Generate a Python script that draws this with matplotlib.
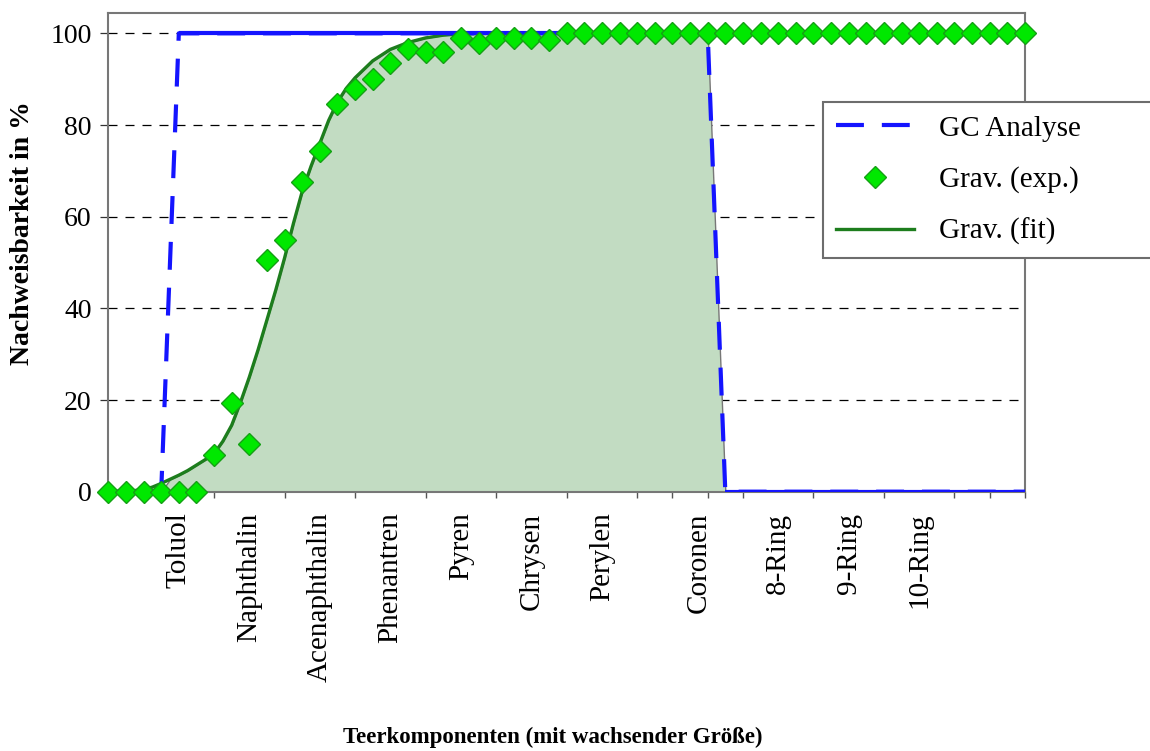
import matplotlib
matplotlib.use("Agg")
import matplotlib.pyplot as plt
import numpy as np
from matplotlib.collections import LineCollection

plt.rcParams['font.family'] = ['Liberation Serif', 'DejaVu Serif']

# components along the x axis (index 0..52)
comp_idx = np.arange(53)

# gravimetric, measured (%)
grav_exp = [0, 0, 0, 0, 0, 0, 8, 19.4, 10.3, 50.5,
            55, 67.6, 74.4, 84.5, 87.8, 90, 93.6, 96.5, 96, 96,
            98.9, 97.8, 98.9, 98.9, 98.9, 98.5, 100, 100, 100, 100,
            100, 100, 100, 100, 100, 100, 100, 100, 100, 100,
            100, 100, 100, 100, 100, 100, 100, 100, 100, 100,
            100, 100, 100]

# GC analysis window (%)
gc_vals = [0, 0, 0, 0, 100, 100, 100, 100, 100, 100,
           100, 100, 100, 100, 100, 100, 100, 100, 100, 100,
           100, 100, 100, 100, 100, 100, 100, 100, 100, 100,
           100, 100, 100, 100, 100, 0, 0, 0, 0, 0,
           0, 0, 0, 0, 0, 0, 0, 0, 0, 0,
           0, 0, 0]

# gravimetric fit curve
fit_x = [0, 1, 2, 2.5, 3, 3.5, 4, 4.5, 5, 5.5, 6, 6.5, 7, 7.5, 8, 8.5, 9, 9.5,
         10, 10.5, 11, 11.5, 12, 12.5, 13, 13.5, 14, 15, 16, 17, 18, 19, 20, 22, 52]
fit_y = [0, 0, 0.5, 1, 1.8, 2.7, 3.6, 4.6, 5.8, 7.0, 8.3, 11, 14.5, 19.5, 25, 31, 37.5, 44,
         51, 58.5, 65.5, 71, 76, 81, 85, 88, 90.3, 94, 96.5, 98, 99, 99.6, 99.9, 100, 100]

cat_names = ['Toluol', 'Naphthalin', 'Acenaphthalin', 'Phenantren', 'Pyren', 'Chrysen',
             'Perylen', 'Coronen', '8-Ring', '9-Ring', '10-Ring']
cat_pos = [4, 8, 12, 16, 20, 24, 28, 33.5, 38, 42, 46]

y_ticks = [0, 20, 40, 60, 80, 100]

blue = '#1414ff'

fig = plt.figure(figsize=(11.5, 7.51), dpi=100)
ax = fig.add_axes([108.3 / 1150, 1 - 491.7 / 751, (1025 - 108.3) / 1150, (491.7 - 12.7) / 751])

# shaded area: detectable by both methods
xs = np.union1d(fit_x, comp_idx)
lower = np.minimum(np.interp(xs, fit_x, fit_y), np.interp(xs, comp_idx, gc_vals))
ax.fill_between(xs, 0, lower, facecolor='#c2dcc2', edgecolor='#777777', lw=1, zorder=1)

fit_line, = ax.plot(fit_x, fit_y, color='#1d7d1d', lw=2.4, label='Grav. (fit)', zorder=2)

gc_line, = ax.plot(comp_idx, gc_vals, color=blue, lw=3, dashes=(6.7, 4.3),
                   label='GC Analyse', zorder=3)
# flat parts of the GC line are drawn solid
segs = [[(comp_idx[i], gc_vals[i]), (comp_idx[i + 1], gc_vals[i + 1])]
        for i in range(len(gc_vals) - 1) if gc_vals[i] == gc_vals[i + 1]]
ax.add_collection(LineCollection(segs, colors=blue, linewidths=3, capstyle='butt', zorder=3))

exp_line, = ax.plot(comp_idx, grav_exp, linestyle='none', marker='D', ms=11.5,
                    mfc='#00e800', mec='#15a015', mew=1, label='Grav. (exp.)',
                    zorder=4, clip_on=False)

ax.set_xlim(0, 52)
ax.set_ylim(0, 104.5)

ax.set_yticks(y_ticks)
ax.yaxis.grid(True, linestyle=(0, (7.2, 6.4)), color='black', lw=0.9)
ax.set_axisbelow(True)
ax.tick_params(axis='y', direction='out', length=6, width=0.9, color='#333333',
               labelsize=20, pad=6)

ax.set_xticks(cat_pos)
ax.set_xticklabels(cat_names, rotation=90, va='top', ha='center')
ax.set_xticks(range(0, 53, 2), minor=True)
ax.tick_params(axis='x', which='major', length=0, labelsize=21, pad=15)
ax.tick_params(axis='x', which='minor', direction='out', length=4, width=1, color='#555555')

for s in ax.spines.values():
    s.set_color('#777777')
    s.set_linewidth(1.5)

ax.set_ylabel('Nachweisbarkeit in %', fontsize=20, fontweight='bold', va='center')
ax.yaxis.set_label_coords(-0.0936, 0.540)
ax.set_xlabel('Teerkomponenten (mit wachsender Größe)', fontsize=16.5, fontweight='bold', va='center')
ax.xaxis.set_label_coords(0.485, -0.512)

leg = ax.legend(handles=[gc_line, exp_line, fit_line], loc='upper left', mode='expand',
                bbox_to_anchor=(823 / 1150, 0.5, 0.35, (1 - 102 / 751) - 0.5),
                bbox_transform=fig.transFigure, borderaxespad=0, fontsize=21,
                fancybox=False, framealpha=1, handlelength=2.67, handletextpad=0.86,
                labelspacing=0.85, borderpad=0.45, numpoints=1)
leg.get_frame().set_edgecolor('#6d6d6d')
leg.get_frame().set_linewidth(1.5)
leg.set_zorder(10)

fig.savefig('out.png', dpi=100)
